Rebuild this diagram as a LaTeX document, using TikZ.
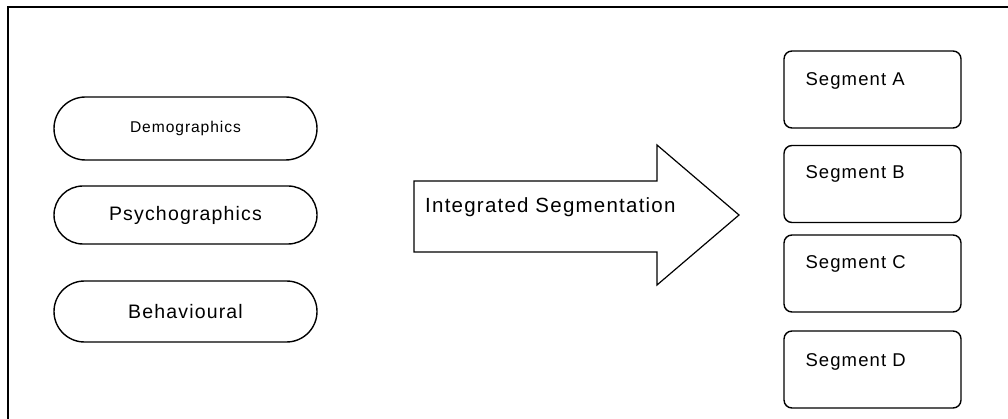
\documentclass[tikz,border=0pt]{standalone}
\usepackage{fontspec}
\newfontfamily\arialsp{Liberation Sans}[LetterSpace=6]
\usetikzlibrary{shapes.misc}
\tikzset{
  frameline/.style={line width=2pt},
  pill/.style={rounded rectangle, draw, line width=1.4pt, minimum width=263pt, inner sep=0pt},
  segbox/.style={draw, line width=1.4pt, rounded corners=8pt, minimum width=177pt, minimum height=77pt, inner sep=0pt},
  segtext/.style={anchor=base west, inner sep=0pt, font=\arialsp\fontsize{18.5}{22}\selectfont},
  bigarrow/.style={draw, line width=1.2pt, line join=miter},
}
\begin{document}
\begin{tikzpicture}[x=1pt,y=-1pt]
\useasboundingbox (0,0) rectangle (1008,419);
% frame
\coordinate (fb) at (8,419);
\coordinate (ftl) at (8,7);
\coordinate (ftr) at (1008,7);
\draw[frameline] (fb) -- (ftl) -- (ftr);
% pills
\node[pill, minimum height=63pt, font=\arialsp\fontsize{15.6}{18}\selectfont] (demo) at (185.5,128.5) {Demographics};
\node[pill, minimum height=58pt, font=\arialsp\fontsize{19.5}{23}\selectfont] (psy) at (185.5,215) {Psychographics};
\node[pill, minimum height=61pt, font=\arialsp\fontsize{19.5}{23}\selectfont] (beh) at (185.5,311.5) {Behavioural};
% arrow
\coordinate (a1) at (414,181);
\coordinate (a2) at (657,181);
\coordinate (a3) at (657,145);
\coordinate (a4) at (739,215);
\coordinate (a5) at (657,285);
\coordinate (a6) at (657,252);
\coordinate (a7) at (414,252);
\draw[bigarrow] (a1) -- (a2) -- (a3) -- (a4) -- (a5) -- (a6) -- (a7) -- cycle;
\node[anchor=base west, inner sep=0pt, font=\arialsp\fontsize{20.5}{24}\selectfont] (intseg) at (425,213) {Integrated Segmentation};
% segments
\node[segbox] (sA) at (872.5,89.5) {};
\node[segbox] (sB) at (872.5,184) {};
\node[segbox] (sC) at (872.5,273.5) {};
\node[segbox] (sD) at (872.5,369.5) {};
\node[segtext] (tA) at ([xshift=22pt,yshift=-35pt]sA.north west) {Segment A};
\node[segtext] (tB) at ([xshift=22pt,yshift=-34pt]sB.north west) {Segment B};
\node[segtext] (tC) at ([xshift=22pt,yshift=-34pt]sC.north west) {Segment C};
\node[segtext] (tD) at ([xshift=22pt,yshift=-36pt]sD.north west) {Segment D};
\end{tikzpicture}
\end{document}
